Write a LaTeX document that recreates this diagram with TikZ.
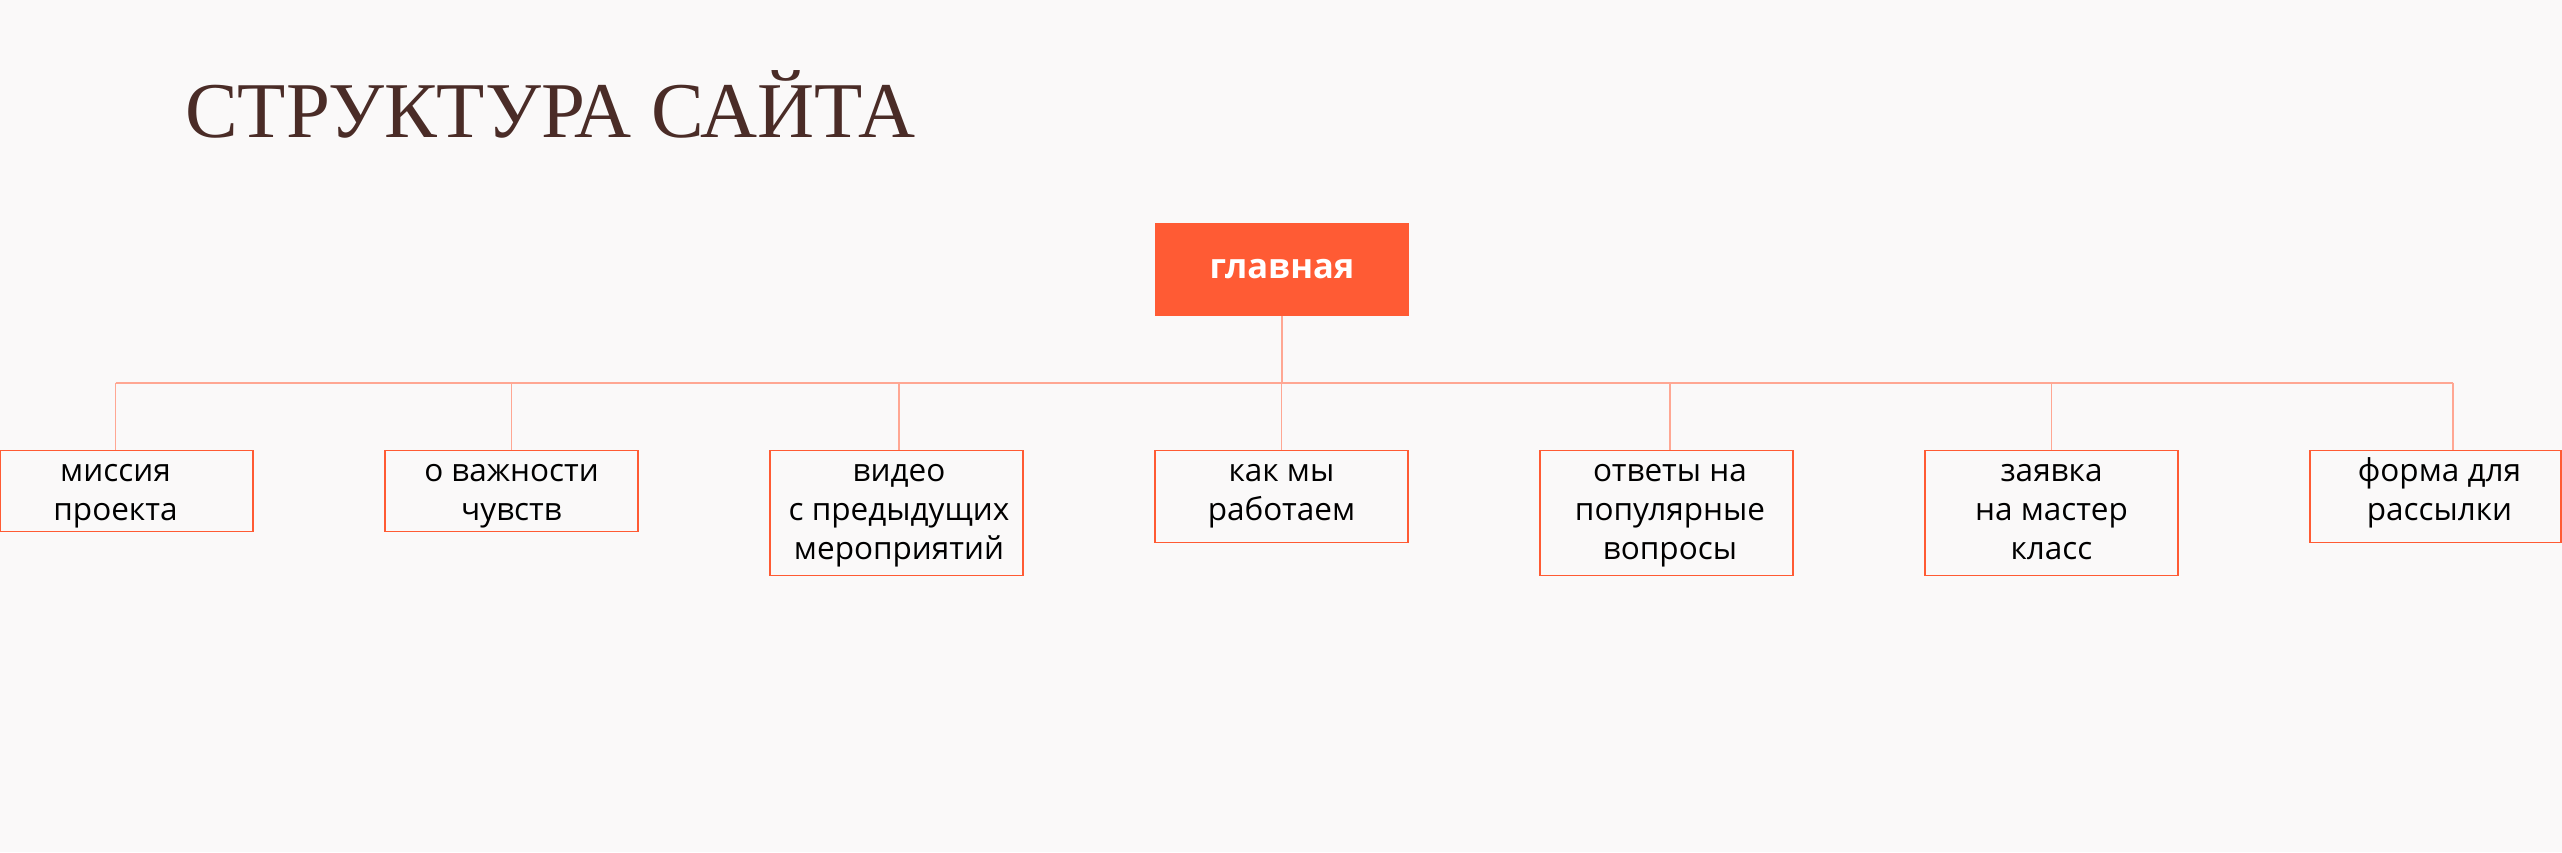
\documentclass[tikz,border=0pt]{standalone}
\usepackage{fontspec}
\setmainfont{Open Sans}
\newfontfamily\titlefont{Liberation Serif}
\usetikzlibrary{positioning}

\definecolor{accent}{HTML}{FF5B34}
\definecolor{linkline}{HTML}{FFA793}
\definecolor{titlebrown}{HTML}{4A2C27}
\definecolor{pagebg}{HTML}{FAF9F9}

% invisible prop so every first line hangs at the same depth
\newcommand{\firstline}{\rule{0pt}{30.7pt}}

\begin{document}
\begin{tikzpicture}[
    x=1pt, y=-1pt,
    % page title - big serif caps
    pagetitle/.style={font=\titlefont\fontsize{79}{82}\selectfont, text=titlebrown,
        inner sep=0pt, anchor=base west},
    % root page - filled orange block
    rootbox/.style={rectangle, fill=accent, minimum width=254pt, minimum height=92.7pt,
        inner sep=0pt, outer sep=0pt, text=white, font=\fontsize{34.5}{40}\selectfont\bfseries},
    % section pages - outlined boxes, anchored at their top edge
    pagebox/.style={rectangle, draw=accent, line width=1.6pt, minimum width=253pt,
        inner sep=0pt, outer sep=0pt, anchor=north west},
    % box text - first line hangs from the box top
    lbl/.style={font=\fontsize{31.5}{39}\selectfont, align=center, anchor=north,
        inner xsep=0pt, inner ysep=0pt},
    % connectors
    busline/.style={draw=linkline, line width=2pt},
    drop/.style={draw=linkline, line width=1.4pt}
]
    % background and page size
    \fill[pagebg] (0,0) rectangle (2562,852);
    \useasboundingbox (0,0) rectangle (2562,852);

    % title
    \node[pagetitle] (title) at (185,137) {СТРУКТУРА САЙТА};

    % root page
    \node[rootbox] (main) at (1282,269.35) {главная};

    % section boxes - equal gaps, tops aligned
    \node[pagebox, minimum height=81pt] (b1) at (0,450.3) {};
    \node[pagebox, minimum height=81pt, right=132pt of b1.north east, anchor=north west] (b2) {};
    \node[pagebox, minimum height=125pt, right=132pt of b2.north east, anchor=north west] (b3) {};
    \node[pagebox, minimum height=92pt, right=132pt of b3.north east, anchor=north west] (b4) {};
    \node[pagebox, minimum height=125pt, right=132pt of b4.north east, anchor=north west] (b5) {};
    \node[pagebox, minimum height=125pt, right=132pt of b5.north east, anchor=north west] (b6) {};
    \node[pagebox, minimum height=92pt, minimum width=251pt, right=132pt of b6.north east, anchor=north west] (b7) {};

    % box texts
    \node[lbl] (t1) at ([xshift=-11pt]b1.north) {\firstline миссия\\проекта};
    \node[lbl] (t2) at (b2.north) {\firstline о важности\\чувств};
    \node[lbl] (t3) at ([xshift=2.5pt]b3.north) {\firstline видео\\с предыдущих\\мероприятий};
    \node[lbl] (t4) at (b4.north) {\firstline как мы\\работаем};
    \node[lbl] (t5) at ([xshift=3.5pt]b5.north) {\firstline ответы на\\популярные\\вопросы};
    \node[lbl] (t6) at (b6.north) {\firstline заявка\\на мастер\\класс};
    \node[lbl] (t7) at ([xshift=4pt]b7.north) {\firstline форма для\\рассылки};

    % bus
    \coordinate (bus) at (0,382.7);
    \coordinate (j7) at (2453,382.7);
    \draw[drop] (main.south) -- (main.south |- bus);
    \draw[busline] (bus -| t1) -- (j7);
    \foreach \i in {1,...,6}
        \draw[drop] (bus -| t\i) -- (b\i.north -| t\i);
    \draw[drop] (j7) -- (j7 |- b7.north);
\end{tikzpicture}
\end{document}
